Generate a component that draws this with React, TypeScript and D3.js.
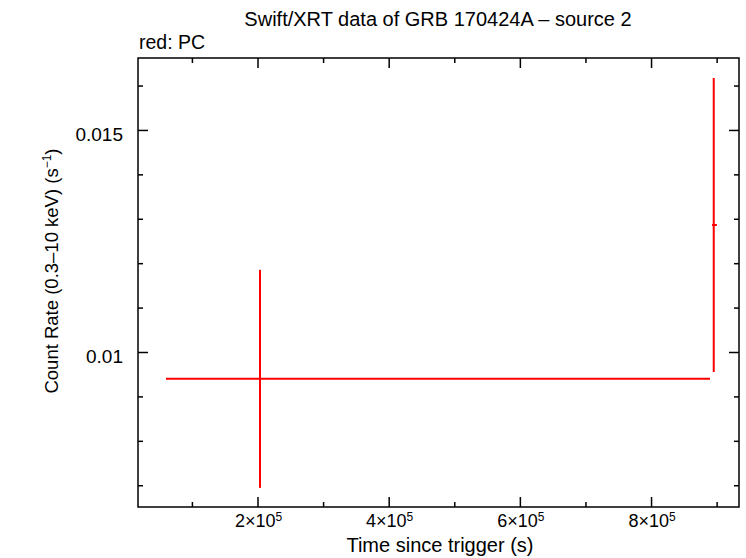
import React, { useRef, useEffect } from 'react'
import * as d3 from 'd3'

// PC mode points: time, time errors (neg/pos), rate, rate errors (neg/pos)
const pcTime = [203800, 895600]
const pcTimeLo = [60500, 893000]
const pcTimeHi = [889900, 900400]
const pcRate = [0.0094, 0.01286]
const pcRateLo = [0.00694, 0.00955]
const pcRateHi = [0.01185, 0.01617]

const xMajor = [200000, 400000, 600000, 800000]
const xMinor = [100000, 300000, 500000, 700000, 900000]
const yMajor = [0.01, 0.015]
const yMinor = [0.007, 0.008, 0.009, 0.011, 0.012, 0.013, 0.014, 0.016]

const W = 746
const H = 558
const font = 'Liberation Sans, Arial, Helvetica, sans-serif'

const App = () => {
  const ref = useRef(null)

  useEffect(() => {
    const svg = d3.select(ref.current)
    svg.selectAll('*').remove()

    const left = 138, right = 739, top = 58, bottom = 507

    const x = d3.scaleLinear().domain([17800, 934100]).range([left, right])
    const y = d3.scaleLinear().domain([0.00651, 0.01662]).range([bottom, top])

    // ticks on all four sides, pointing inward
    const addAxis = (axisFn, scale, tr, major, minor) => {
      const gMaj = svg.append('g').attr('transform', tr)
        .call(axisFn(scale).tickValues(major).tickSize(10).tickSizeOuter(0).tickFormat(() => ''))
      const gMin = svg.append('g').attr('transform', tr)
        .call(axisFn(scale).tickValues(minor).tickSize(5).tickSizeOuter(0).tickFormat(() => ''))
      ;[gMaj, gMin].forEach(g => {
        g.select('.domain').remove()
        g.selectAll('line').attr('stroke', '#000').attr('stroke-width', 1.5)
      })
    }

    addAxis(d3.axisTop, x, `translate(0,${bottom})`, xMajor, xMinor)
    addAxis(d3.axisBottom, x, `translate(0,${top})`, xMajor, xMinor)
    addAxis(d3.axisRight, y, `translate(${left},0)`, yMajor, yMinor)
    addAxis(d3.axisLeft, y, `translate(${right},0)`, yMajor, yMinor)

    // frame
    svg.append('rect')
      .attr('x', left).attr('y', top)
      .attr('width', right - left).attr('height', bottom - top)
      .attr('fill', 'none').attr('stroke', '#000').attr('stroke-width', 1.5)

    // x tick labels
    xMajor.forEach(d => {
      const t = svg.append('text')
        .attr('x', x(d) + 1).attr('y', 527)
        .attr('text-anchor', 'middle')
        .attr('font-family', font).attr('font-size', 18)
      t.append('tspan').text(`${Math.round(d / 1e5)}×10`)
      t.append('tspan').attr('dy', -6).attr('font-size', 12).text('5')
    })

    // y tick labels
    yMajor.forEach(d => {
      svg.append('text')
        .attr('x', 123).attr('y', y(d) + 11)
        .attr('text-anchor', 'end')
        .attr('font-family', font).attr('font-size', 19)
        .text(d3.format('~g')(d))
    })

    // title + subtitle
    svg.append('text')
      .attr('x', 438).attr('y', 26)
      .attr('text-anchor', 'middle')
      .attr('font-family', font).attr('font-size', 20)
      .text('Swift/XRT data of GRB 170424A \u2013 source 2')

    svg.append('text')
      .attr('x', 139).attr('y', 49)
      .attr('font-family', font).attr('font-size', 19.5)
      .text('red: PC')

    // axis titles
    svg.append('text')
      .attr('x', 440).attr('y', 552)
      .attr('text-anchor', 'middle')
      .attr('font-family', font).attr('font-size', 20)
      .text('Time since trigger (s)')

    const yl = svg.append('text')
      .attr('transform', `translate(58,271) rotate(-90)`)
      .attr('text-anchor', 'middle')
      .attr('font-family', font).attr('font-size', 18.5)
    yl.append('tspan').text('Count Rate (0.3\u201310 keV) (s')
    yl.append('tspan').attr('dy', -7).attr('font-size', 12).text('\u22121')
    yl.append('tspan').attr('dy', 7).text(')')

    // error bars
    const pts = pcTime.map((t, i) => ({
      t, tLo: pcTimeLo[i], tHi: pcTimeHi[i],
      r: pcRate[i], rLo: pcRateLo[i], rHi: pcRateHi[i]
    }))

    const g = svg.append('g')
    g.selectAll('.xerr').data(pts).enter().append('line')
      .attr('x1', d => x(d.tLo)).attr('x2', d => x(d.tHi))
      .attr('y1', d => y(d.r)).attr('y2', d => y(d.r))
      .attr('stroke', '#ff0000').attr('stroke-width', 2)
    g.selectAll('.yerr').data(pts).enter().append('line')
      .attr('x1', d => x(d.t)).attr('x2', d => x(d.t))
      .attr('y1', d => y(d.rLo)).attr('y2', d => y(d.rHi))
      .attr('stroke', '#ff0000').attr('stroke-width', 2)
  }, [])

  return (
    <svg ref={ref} width={W} height={H}
      style={{ position: 'absolute', left: 0, top: 0, background: '#fff' }} />
  )
}

export default App
